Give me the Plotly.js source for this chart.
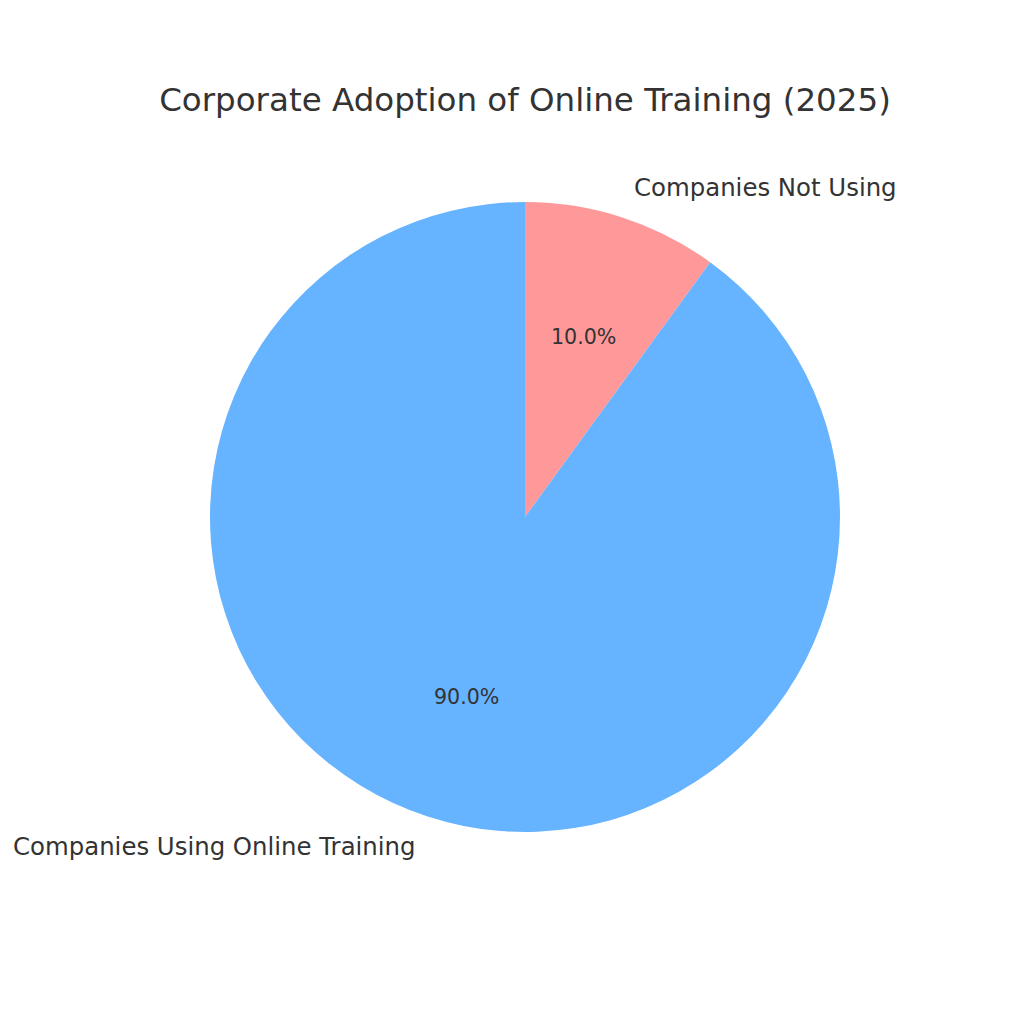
<!DOCTYPE html>
<html>
<head>
<meta charset="utf-8">
<script src="https://cdn.plot.ly/plotly-3.0.1.min.js"></script>
<style>
  body { margin: 0; background: #fff; }
  #chart { width: 1024px; height: 1024px; }
</style>
</head>
<body>
<div id="chart"></div>
<script>
// Chart data (in drawing order, clockwise from 12 o'clock)
const labels = ['Companies Not Using', 'Companies Using Online Training'];
const values = [10, 90];
const colors = ['#ff9999', '#66b3ff'];

const chartTitle = 'Corporate Adoption of Online Training (2025)';
const textColor = '#333333';
const fontFamily = 'DejaVu Sans, sans-serif';

// Pie placement (paper units, figure is square with no margins)
const cx = 525 / 1024;
const cy = 507 / 1024;
const r = 315 / 1024;

var trace = {
  type: 'pie',
  labels: labels,
  values: values,
  marker: { colors: colors, line: { width: 0 } },
  sort: false,
  direction: 'clockwise',
  textinfo: 'none',
  hoverinfo: 'none',
  showlegend: false,
  domain: { x: [cx - r, cx + r], y: [cy - r, cy + r] },
};

// Labels like matplotlib: name at 1.1 r, percent at 0.6 r, at each slice mid-angle
var annotations = [];
const total = values.reduce((a, b) => a + b, 0);
let startAngle = 90;
values.forEach((v, i) => {
  const span = (v / total) * 360;
  const mid = ((startAngle - span / 2) * Math.PI) / 180;
  startAngle -= span;
  const cosA = Math.cos(mid);
  const sinA = Math.sin(mid);

  annotations.push({
    xref: 'paper', yref: 'paper',
    x: cx + 1.1 * r * cosA,
    y: cy + 1.1 * r * sinA,
    text: labels[i],
    showarrow: false,
    xanchor: cosA > 0 ? 'left' : 'right',
    yanchor: 'middle',
    font: { size: 24.4, color: textColor, family: fontFamily },
  });
  annotations.push({
    xref: 'paper', yref: 'paper',
    x: cx + 0.6 * r * cosA,
    y: cy + 0.6 * r * sinA,
    text: ((v / total) * 100).toFixed(1) + '%',
    showarrow: false,
    xanchor: 'center',
    yanchor: 'middle',
    font: { size: 20.6, color: textColor, family: fontFamily },
  });
});

var layout = {
  width: 1024,
  height: 1024,
  margin: { t: 0, b: 0, l: 0, r: 0 },
  paper_bgcolor: '#ffffff',
  title: {
    text: chartTitle,
    x: cx,
    xanchor: 'center',
    y: 1 - 100 / 1024,
    yanchor: 'middle',
    font: { size: 32.5, color: textColor, family: fontFamily },
  },
  annotations: annotations,
};

Plotly.newPlot('chart', [trace], layout, { displayModeBar: false });
</script>
</body>
</html>
